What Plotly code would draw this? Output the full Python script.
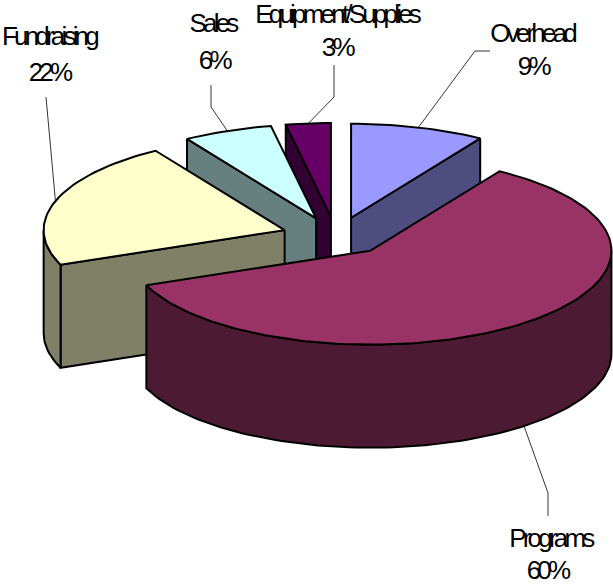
import math
import plotly.graph_objects as go

# ---- data ----
categories = ["Overhead", "Programs", "Fundraising", "Sales", "Equipment/Supplies"]
values = [9, 60, 22, 6, 3]
top_colors = ["#9999FF", "#993366", "#FFFFCC", "#CCFFFF", "#660066"]
side_colors = ["#4D4D80", "#4D1A33", "#808066", "#668080", "#330033"]

# ---- layout parameters (pixels) ----
W, H = 613, 586
CX, CY = 336, 236          # pie centre (unexploded)
RX, RY = 241, 94           # ellipse radii of top face
DEPTH = 103                # thickness of the pie
EXPLODE_X, EXPLODE_Y = 54, 19

# label positions (name centre, percent centre) and leader elbows
label_pos = {
    "Overhead": ((532, 33), (533, 66), [(490, 51), (475, 51)]),
    "Programs": ((550, 538), (547, 570), [(548, 516), (548, 493)]),
    "Fundraising": ((49, 36), (49, 72), [(46, 97)]),
    "Sales": ((212, 23), (214, 60), [(211, 85), (211, 107)]),
    "Equipment/Supplies": ((336, 14), (337, 47), [(334, 65), (334, 97)]),
}

FONT = dict(family="Liberation Sans, Arial, sans-serif", size=26, color="black")


def rim(ax, ay, deg, dz=0.0):
    t = math.radians(deg)
    return ax + RX * math.sin(t), ay - RY * math.cos(t) + dz


def arc(ax, ay, a, b, dz=0.0):
    steps = max(2, int(abs(b - a) / 1.5) + 1)
    return [rim(ax, ay, a + (b - a) * i / (steps - 1), dz) for i in range(steps)]


fig = go.Figure()


def poly(pts, fill, width=2.0):
    pts = list(pts) + [pts[0]]
    fig.add_trace(go.Scatter(
        x=[p[0] for p in pts], y=[p[1] for p in pts],
        mode="lines", fill="toself", fillcolor=fill,
        line=dict(color="black", width=width),
        hoverinfo="skip", showlegend=False))


# compute slices
total = float(sum(values))
slices = []
acc = 0.0
for name, v, tc, sc in zip(categories, values, top_colors, side_colors):
    a1 = acc / total * 360.0
    acc += v
    a2 = acc / total * 360.0
    mid = (a1 + a2) / 2
    t = math.radians(mid)
    ax = CX + EXPLODE_X * math.sin(t)
    ay = CY - EXPLODE_Y * math.cos(t)
    slices.append(dict(name=name, v=v, a1=a1, a2=a2, mid=mid, ax=ax, ay=ay, tc=tc, sc=sc))

# painter's order: back to front
for s in sorted(slices, key=lambda s: -math.cos(math.radians(s["mid"]))):
    ax, ay, a1, a2 = s["ax"], s["ay"], s["a1"], s["a2"]
    # start wall
    if math.cos(math.radians(a1 - 90)) < 0:
        p = rim(ax, ay, a1)
        poly([(ax, ay), p, (p[0], p[1] + DEPTH), (ax, ay + DEPTH)], s["sc"])
    # end wall
    if math.cos(math.radians(a2 + 90)) < 0:
        p = rim(ax, ay, a2)
        poly([(ax, ay), p, (p[0], p[1] + DEPTH), (ax, ay + DEPTH)], s["sc"])
    # outer wall (front half only)
    lo, hi = max(a1, 90.0), min(a2, 270.0)
    if hi > lo:
        top = arc(ax, ay, lo, hi)
        bot = arc(ax, ay, hi, lo, DEPTH)
        poly(top + bot, s["sc"])
    # top face
    poly([(ax, ay)] + arc(ax, ay, a1, a2), s["tc"])

# labels and leader lines
for s in slices:
    (nx, ny), (px, py), elbows = label_pos[s["name"]]
    front = math.cos(math.radians(s["mid"])) < 0
    anchor = rim(s["ax"], s["ay"], s["mid"], DEPTH if front else 0.0)
    pts = elbows + [anchor]
    fig.add_trace(go.Scatter(x=[p[0] for p in pts], y=[p[1] for p in pts], mode="lines",
                             line=dict(color="black", width=0.8),
                             hoverinfo="skip", showlegend=False))
    fig.add_annotation(x=nx, y=ny, text=s["name"], showarrow=False, font=FONT,
                       xanchor="center", yanchor="middle")
    fig.add_annotation(x=px, y=py, text=f"{s['v']}%", showarrow=False, font=FONT,
                       xanchor="center", yanchor="middle")

fig.update_layout(
    width=W, height=H, autosize=False,
    margin=dict(l=0, r=0, t=0, b=0),
    paper_bgcolor="white", plot_bgcolor="white",
    xaxis=dict(range=[0, W], visible=False, fixedrange=True),
    yaxis=dict(range=[H, 0], visible=False, fixedrange=True),
    showlegend=False,
)

# no page margin; tight letter spacing like the condensed labels of the original
post = ("var s=document.createElement('style');"
        "s.textContent='html,body{margin:0;padding:0;overflow:hidden;}"
        ".annotation-text{letter-spacing:-3.8px;}';"
        "document.head.appendChild(s);")

fig.write_html("out.html", post_script=post, config={"displayModeBar": False})
